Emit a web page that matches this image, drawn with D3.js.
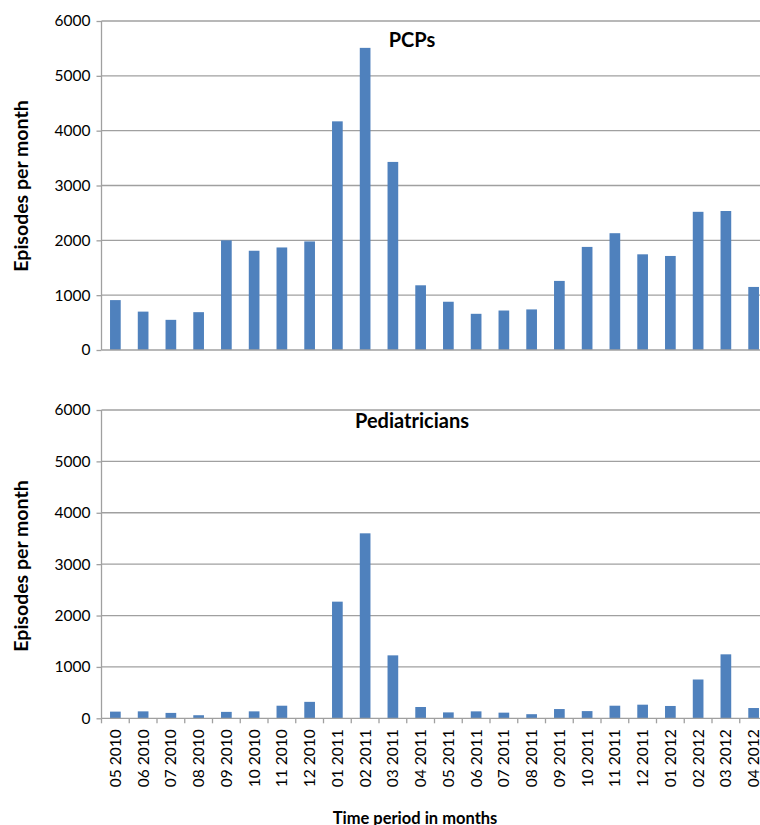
<!DOCTYPE html>
<html>
<head>
<meta charset="utf-8">
<script src="https://cdn.jsdelivr.net/npm/d3@7"></script>
<style>
  body { margin: 0; background: #fff; }
  svg { display: block; font-family: Lato, "Open Sans", sans-serif; }
</style>
</head>
<body>
<div id="chart"></div>
<script>
// categories along the bottom axis
const months = [
  "05 2010", "06 2010", "07 2010", "08 2010", "09 2010", "10 2010",
  "11 2010", "12 2010", "01 2011", "02 2011", "03 2011", "04 2011",
  "05 2011", "06 2011", "07 2011", "08 2011", "09 2011", "10 2011",
  "11 2011", "12 2011", "01 2012", "02 2012", "03 2012", "04 2012"
];

// episodes per month
const pcpValues = [
  910, 700, 550, 690, 2000, 1810, 1870, 1980, 4170, 5510, 3430, 1180,
  880, 660, 720, 740, 1260, 1880, 2130, 1745, 1715, 2520, 2535, 1150
];
const pediatricianValues = [
  130, 135, 105, 60, 125, 135, 245, 320, 2270, 3600, 1225, 220,
  115, 135, 110, 80, 180, 140, 245, 265, 240, 755, 1245, 200
];

const yTicks = [0, 1000, 2000, 3000, 4000, 5000, 6000];

const width = 760;
const height = 825;
const barColor = "#4f81bd";
const gridColor = "#a0a0a0";

const svg = d3.select("#chart")
  .append("svg")
  .attr("width", width)
  .attr("height", height);

// shared x scale, the plot runs a little past the right edge like the source
const xScale = d3.scaleBand()
  .domain(months)
  .range([101.5, 101.5 + 24 * 27.75])
  .padding(0);

const barWidth = xScale.bandwidth() * 0.385;

const panels = [
  { title: "PCPs", values: pcpValues, top: 21, bottom: 350, titleY: 47, labelY: 186, showLabels: false },
  { title: "Pediatricians", values: pediatricianValues, top: 410, bottom: 718.3, titleY: 428, labelY: 566, showLabels: true }
];

panels.forEach((p) => {
  const yScale = d3.scaleLinear()
    .domain([0, 6000])
    .range([p.bottom, p.top]);

  const g = svg.append("g");

  // gridlines
  g.selectAll(".grid")
    .data(yTicks.filter((d) => d > 0))
    .join("line")
    .attr("class", "grid")
    .attr("x1", xScale.range()[0])
    .attr("x2", xScale.range()[1])
    .attr("y1", (d) => yScale(d))
    .attr("y2", (d) => yScale(d))
    .attr("stroke", gridColor)
    .attr("stroke-width", 1.3);

  // bars
  g.selectAll(".bar")
    .data(p.values.map((v, i) => ({ month: months[i], value: v })))
    .join("rect")
    .attr("class", "bar")
    .attr("x", (d) => xScale(d.month) + xScale.bandwidth() / 2 - barWidth / 2)
    .attr("width", barWidth)
    .attr("y", (d) => yScale(d.value))
    .attr("height", (d) => yScale(0) - yScale(d.value))
    .attr("fill", barColor);

  // y axis
  const yAxis = d3.axisLeft(yScale)
    .tickValues(yTicks)
    .tickSize(5)
    .tickPadding(6)
    .tickFormat(d3.format("d"));

  const yAxisGroup = g.append("g")
    .attr("transform", `translate(${xScale.range()[0]},0)`)
    .call(yAxis);
  yAxisGroup.select(".domain").remove();
  yAxisGroup.selectAll(".tick line").attr("stroke", gridColor).attr("stroke-width", 1.3);
  yAxisGroup.selectAll(".tick text")
    .attr("fill", "#000")
    .style("font-size", "15.5px")
    .style("font-family", "Lato, sans-serif");

  g.append("line")
    .attr("x1", xScale.range()[0])
    .attr("x2", xScale.range()[0])
    .attr("y1", p.top)
    .attr("y2", p.bottom)
    .attr("stroke", gridColor)
    .attr("stroke-width", 1.3);

  // x axis line
  g.append("line")
    .attr("x1", xScale.range()[0])
    .attr("x2", xScale.range()[1])
    .attr("y1", p.bottom)
    .attr("y2", p.bottom)
    .attr("stroke", gridColor)
    .attr("stroke-width", 1.3);

  if (p.showLabels) {
    // tick marks between categories
    const bounds = months.map((m) => xScale(m)).concat([xScale.range()[1]]);
    g.selectAll(".xtick")
      .data(bounds)
      .join("line")
      .attr("class", "xtick")
      .attr("x1", (d) => d)
      .attr("x2", (d) => d)
      .attr("y1", p.bottom)
      .attr("y2", p.bottom + 5)
      .attr("stroke", gridColor)
      .attr("stroke-width", 1.3);

    const xAxis = d3.axisBottom(xScale).tickSize(0);
    const xAxisGroup = g.append("g")
      .attr("transform", `translate(0,${p.bottom})`)
      .call(xAxis);
    xAxisGroup.select(".domain").remove();
    xAxisGroup.selectAll(".tick text")
      .attr("fill", "#000")
      .style("font-size", "15.5px")
      .style("font-family", "Lato, sans-serif")
      .attr("text-anchor", "end")
      .attr("dy", "0.35em")
      .attr("y", 0)
      .attr("transform", "translate(0,11) rotate(-90)");
  }

  // panel title
  g.append("text")
    .attr("x", 412)
    .attr("y", p.titleY)
    .attr("text-anchor", "middle")
    .style("font-size", "20px")
    .style("font-weight", "700")
    .text(p.title);

  // y axis title
  g.append("text")
    .attr("transform", `translate(28,${p.labelY}) rotate(-90)`)
    .attr("text-anchor", "middle")
    .style("font-size", "19.5px")
    .style("font-weight", "700")
    .text("Episodes per month");
});

svg.append("text")
  .attr("x", 415)
  .attr("y", 824)
  .attr("text-anchor", "middle")
  .style("font-size", "16.5px")
  .style("font-weight", "700")
  .text("Time period in months");
</script>
</body>
</html>
